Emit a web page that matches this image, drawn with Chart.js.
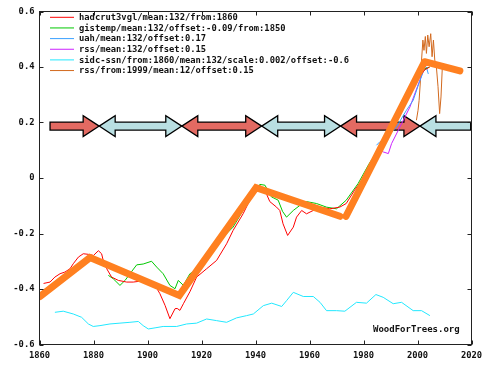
<!DOCTYPE html>
<html><head><meta charset="utf-8">
<script src="https://cdn.jsdelivr.net/npm/chart.js@4"></script>
<style>html,body{margin:0;padding:0;background:#fff;}</style>
</head><body>
<canvas id="c" width="491" height="366"></canvas>
<script>
// ---------- data ----------
const xTicks = [1860, 1880, 1900, 1920, 1940, 1960, 1980, 2000, 2020];
const yTicks = [-0.6, -0.4, -0.2, 0, 0.2, 0.4, 0.6];

const legendLabels = [
  "hadcrut3vgl/mean:132/from:1860",
  "gistemp/mean:132/offset:-0.09/from:1850",
  "uah/mean:132/offset:0.17",
  "rss/mean:132/offset:0.15",
  "sidc-ssn/from:1860/mean:132/scale:0.002/offset:-0.6",
  "rss/from:1999/mean:12/offset:0.15"
];
const seriesColors = ["#ff0000", "#00c800", "#3aa0ff", "#cc22ff", "#22e8ff", "#d2691e"];

const hadcrutYears = [1861.5,1863.9,1865.7,1867.6,1869.4,1871.3,1872.5,1874.4,1876.2,1878.1,1880,1881.8,1883,1883.6,1884.9,1886.7,1889.2,1892.3,1894.7,1897.2,1900.3,1902.8,1904.6,1906.5,1908.3,1910.2,1911,1912,1913.3,1915.7,1918.2,1921.9,1925.6,1929.3,1931.7,1935.4,1937.9,1939.7,1941.6,1944,1945.3,1947.8,1949,1950.2,1951.9,1954,1955.2,1957.1,1958.9,1961.4,1963.8,1967.5,1971.2,1973.6,1976.7,1980,1983,1986,1989,1992,1995.9,1999.6,2002.7,2004.5];
const hadcrutVals  = [-0.38,-0.375,-0.357,-0.345,-0.339,-0.327,-0.309,-0.285,-0.273,-0.275,-0.279,-0.262,-0.273,-0.297,-0.327,-0.357,-0.369,-0.375,-0.375,-0.372,-0.381,-0.387,-0.417,-0.459,-0.507,-0.471,-0.47,-0.477,-0.453,-0.41,-0.357,-0.327,-0.297,-0.237,-0.189,-0.129,-0.08,-0.044,-0.026,-0.056,-0.085,-0.105,-0.117,-0.165,-0.207,-0.177,-0.141,-0.117,-0.129,-0.117,-0.105,-0.111,-0.105,-0.092,-0.044,0.0,0.05,0.1,0.15,0.2,0.29,0.35,0.39,0.4];

const gistempYears = [1885.5,1887.3,1889.8,1891.7,1893.5,1896,1898.4,1901.5,1903.4,1905.8,1908.3,1910.2,1911.4,1913.3,1915.7,1918.2,1921,1924,1926.8,1931.7,1935.4,1938.5,1941.6,1943.5,1945.9,1948.4,1950,1951.5,1954,1956.4,1958.9,1962.6,1966.3,1970,1973.6,1978,1982,1986,1990,1994,1998,2002,2004.5];
const gistempVals  = [-0.351,-0.363,-0.387,-0.369,-0.345,-0.313,-0.31,-0.3,-0.321,-0.345,-0.387,-0.399,-0.369,-0.387,-0.345,-0.331,-0.31,-0.27,-0.225,-0.177,-0.117,-0.056,-0.023,-0.026,-0.068,-0.08,-0.12,-0.141,-0.117,-0.099,-0.085,-0.092,-0.105,-0.111,-0.08,-0.02,0.05,0.11,0.17,0.25,0.33,0.39,0.4];

const uahYears = [1984.8,1986,1987.3,1989,1992.2,1995.9,1998.4,2000.5,2002,2003.3,2004];
const uahVals  = [0.118,0.13,0.136,0.15,0.184,0.244,0.28,0.34,0.38,0.4,0.375];

const rssYears = [1985.5,1987.3,1989.2,1990.4,1993.5,1997.2,2000,2002.7,2004];
const rssVals  = [0.11,0.094,0.088,0.124,0.184,0.256,0.33,0.4,0.41];

const ssnYears = [1865.7,1868.8,1872.5,1875.6,1878.1,1879.9,1882.4,1886.1,1889.8,1893.5,1896.6,1898.4,1900.3,1902.8,1905.8,1910.8,1914.5,1918.2,1921.9,1925.6,1929.3,1933,1936.7,1939.2,1942.9,1946,1949.7,1951.5,1954,1957.7,1961.4,1963.9,1966.3,1970,1973.1,1977.4,1981.1,1984.6,1987.3,1991,1994.1,1998.4,2001.5,2004.6];
const ssnVals  = [-0.484,-0.48,-0.49,-0.502,-0.526,-0.535,-0.532,-0.526,-0.523,-0.52,-0.517,-0.532,-0.544,-0.54,-0.535,-0.535,-0.526,-0.523,-0.508,-0.514,-0.52,-0.504,-0.496,-0.49,-0.46,-0.451,-0.463,-0.442,-0.412,-0.427,-0.427,-0.448,-0.478,-0.478,-0.48,-0.448,-0.451,-0.42,-0.43,-0.453,-0.448,-0.478,-0.478,-0.496];

const rss12Years = [1999.6,2000.2,2000.6,2001.1,2001.5,2002,2002.4,2002.9,2003.3,2003.8,2004.3,2004.9,2005.4,2005.9,2006.4,2007,2007.6,2008.2,2008.7,2009.2];
const rss12Vals  = [0.208,0.244,0.28,0.353,0.425,0.497,0.46,0.51,0.449,0.515,0.473,0.52,0.437,0.497,0.425,0.4,0.329,0.232,0.292,0.4];

const trendAYears = [1860.2,1878.7,1911.8,1940.2,1971.3];
const trendAVals  = [-0.427,-0.287,-0.423,-0.035,-0.138];
const trendBYears = [1973.5,2002.6,2015.7];
const trendBVals  = [-0.138,0.419,0.386];

// arrows along the band
const arrowLevel = 0.187;
const arrowBreaks = [1863.9,1882.1,1912.7,1942.3,1971.5,2000.9,2019.7];
const arrowLeftHead  = [false,true,true,true,true,true];
const arrowRightHead = [true,true,true,true,true,false];
const arrowFill = ["#e36a62","#b9dfe2","#e36a62","#b9dfe2","#e36a62","#b9dfe2"];

const pts = (xs, ys) => xs.map((x, i) => ({x: x, y: ys[i]}));
const MONO = "'DejaVu Sans Mono', monospace";

// ---------- plugins ----------
const arrowsPlugin = {
  id: 'arrows',
  beforeDatasetsDraw(chart) {
    const {ctx, scales: {x, y}} = chart;
    const yc = y.getPixelForValue(arrowLevel);
    const sh = 4, hh = 10.5, hl = 16;
    ctx.save();
    ctx.lineWidth = 1.3;
    ctx.strokeStyle = '#000';
    ctx.lineJoin = 'miter';
    for (let i = 0; i < arrowBreaks.length - 1; i++) {
      const x0 = x.getPixelForValue(arrowBreaks[i]);
      const x1 = x.getPixelForValue(arrowBreaks[i + 1]);
      const p = [];
      if (arrowLeftHead[i]) { p.push([x0, yc], [x0 + hl, yc - hh], [x0 + hl, yc - sh]); }
      else { p.push([x0, yc + sh], [x0, yc - sh]); }
      if (arrowRightHead[i]) { p.push([x1 - hl, yc - sh], [x1 - hl, yc - hh], [x1, yc], [x1 - hl, yc + hh], [x1 - hl, yc + sh]); }
      else { p.push([x1, yc - sh], [x1, yc + sh]); }
      if (arrowLeftHead[i]) { p.push([x0 + hl, yc + sh], [x0 + hl, yc + hh]); }
      ctx.beginPath();
      p.forEach((q, k) => k ? ctx.lineTo(q[0], q[1]) : ctx.moveTo(q[0], q[1]));
      ctx.closePath();
      ctx.fillStyle = arrowFill[i];
      ctx.fill();
      ctx.stroke();
    }
    ctx.restore();
  }
};

const framePlugin = {
  id: 'frame',
  afterDraw(chart) {
    const {ctx, chartArea: a, scales: {x, y}} = chart;
    ctx.save();
    ctx.strokeStyle = '#222';
    ctx.lineWidth = 1;
    ctx.strokeRect(a.left, a.top, a.right - a.left, a.bottom - a.top);
    ctx.beginPath();
    const tl = 4;
    xTicks.forEach(v => {
      const px = Math.round(x.getPixelForValue(v)) + 0.5;
      ctx.moveTo(px, a.bottom); ctx.lineTo(px, a.bottom - tl);
      ctx.moveTo(px, a.top); ctx.lineTo(px, a.top + tl);
    });
    yTicks.forEach(v => {
      const py = Math.round(y.getPixelForValue(v)) + 0.5;
      ctx.moveTo(a.left, py); ctx.lineTo(a.left + tl, py);
      ctx.moveTo(a.right, py); ctx.lineTo(a.right - tl, py);
    });
    ctx.stroke();

    // legend
    ctx.font = "bold 8.8px " + MONO;
    ctx.textBaseline = 'middle';
    ctx.textAlign = 'left';
    legendLabels.forEach((t, i) => {
      const ly = 17.3 + i * 10.65;
      ctx.strokeStyle = seriesColors[i];
      ctx.lineWidth = 1;
      ctx.beginPath();
      ctx.moveTo(50, ly); ctx.lineTo(74, ly);
      ctx.stroke();
      ctx.fillStyle = '#111';
      ctx.fillText(t, 79, ly + 0.5);
    });
    // watermark
    ctx.font = "bold 9px " + MONO;
    ctx.fillText("WoodForTrees.org", 373, 329.5);
    ctx.restore();
  }
};

const thin = (data, color) => ({
  data: data, borderColor: color, borderWidth: 1, pointRadius: 0,
  fill: false, tension: 0, order: 5
});

new Chart(document.getElementById('c'), {
  type: 'line',
  data: {
    datasets: [
      {data: pts(trendAYears, trendAVals), borderColor: '#ff8020', borderWidth: 7, pointRadius: 0, fill: false, borderCapStyle: 'round', borderJoinStyle: 'miter', order: 0},
      {data: pts(trendBYears, trendBVals), borderColor: '#ff8020', borderWidth: 7, pointRadius: 0, fill: false, borderCapStyle: 'round', borderJoinStyle: 'round', order: 0},
      thin(pts(hadcrutYears, hadcrutVals), seriesColors[0]),
      thin(pts(gistempYears, gistempVals), seriesColors[1]),
      thin(pts(uahYears, uahVals), seriesColors[2]),
      thin(pts(rssYears, rssVals), seriesColors[3]),
      thin(pts(ssnYears, ssnVals), seriesColors[4]),
      thin(pts(rss12Years, rss12Vals), seriesColors[5])
    ]
  },
  options: {
    responsive: false,
    animation: false,
    devicePixelRatio: 1,
    layout: {padding: {left: 0, right: 19.5, top: 11.5, bottom: 0}},
    plugins: {legend: {display: false}, tooltip: {enabled: false}},
    scales: {
      x: {
        type: 'linear', min: 1860, max: 2020,
        afterBuildTicks: s => { s.ticks = xTicks.map(v => ({value: v})); },
        afterFit: s => { s.height = 21.5; },
        ticks: {callback: v => String(v), font: {family: MONO, weight: 'bold', size: 8.8}, color: '#111', padding: 6, maxRotation: 0, autoSkip: false},
        grid: {display: false, drawTicks: false},
        border: {display: false}
      },
      y: {
        type: 'linear', min: -0.6, max: 0.6,
        afterBuildTicks: s => { s.ticks = yTicks.map(v => ({value: v})); },
        afterFit: s => { s.width = 39.5; },
        ticks: {callback: v => { const r = Math.round(v * 10) / 10; return r === 0 ? "0" : String(r); }, font: {family: MONO, weight: 'bold', size: 8.8}, color: '#111', padding: 5, autoSkip: false},
        grid: {display: false, drawTicks: false},
        border: {display: false}
      }
    }
  },
  plugins: [arrowsPlugin, framePlugin]
});
</script>
</body></html>
